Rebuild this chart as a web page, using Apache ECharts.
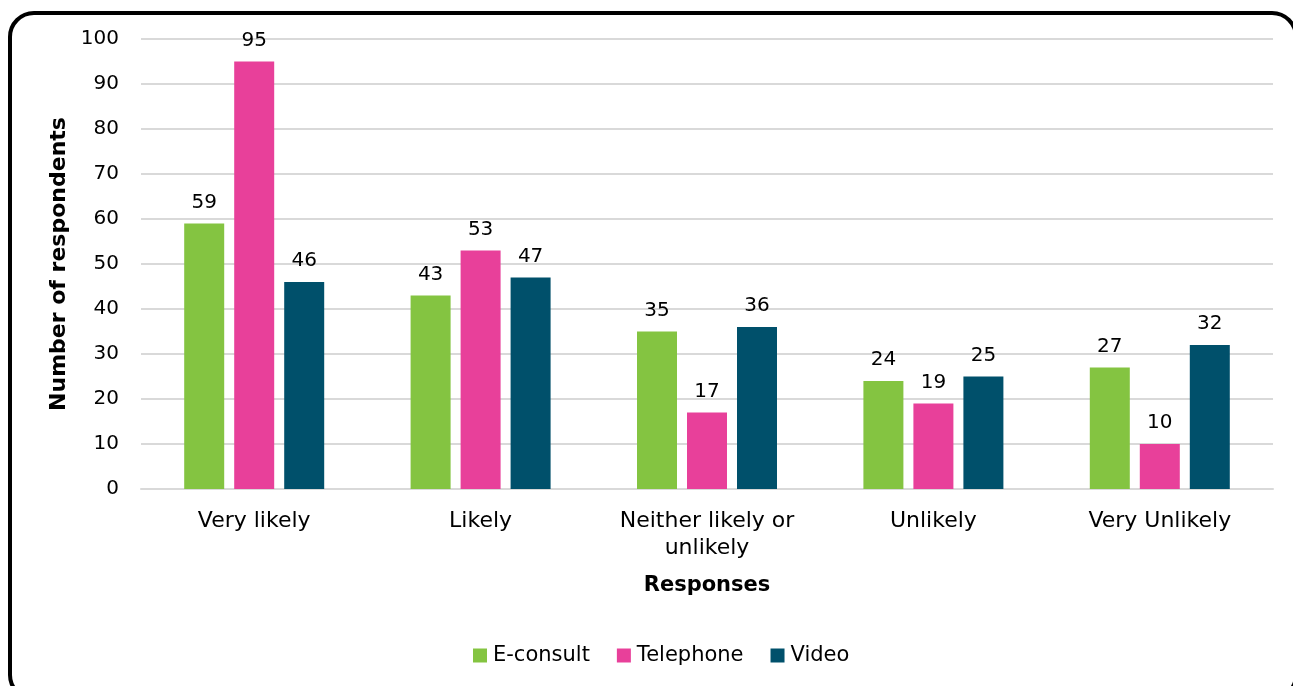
<!DOCTYPE html>
<html>
<head>
<meta charset="utf-8">
<script src="https://cdn.jsdelivr.net/npm/echarts@6/dist/echarts.min.js"></script>
<style>
    html, body { margin: 0; padding: 0; background: #fff; overflow: hidden; }
    #frame {
        position: absolute; left: 8px; top: 11px; width: 1290px; height: 690px;
        border: 4px solid #000; border-radius: 26px; box-sizing: border-box;
    }
    #chart-bar-01 { position: absolute; left: 0; top: 0; width: 1293px; height: 686px; }
</style>
</head>
<body>
<div id="frame"></div>
<div id="chart-bar-01"></div>
<script>
// 数据
var categories = ['Very likely', 'Likely', 'Neither likely or\nunlikely', 'Unlikely', 'Very Unlikely'];
var eConsult = [59, 43, 35, 24, 27];
var telephone = [95, 53, 17, 19, 10];
var video = [46, 47, 36, 25, 32];

var fontName = "'DejaVu Sans', sans-serif";

var chartbar1 = echarts.init(document.getElementById('chart-bar-01'));

function barSeries(name, data, color) {
    return {
        name: name,
        type: 'bar',
        data: data,
        barWidth: 40,
        barGap: '25%',
        itemStyle: { color: color },
        label: {
            show: true,
            position: 'top',
            distance: 11,
            color: '#000',
            fontSize: 20,
            fontFamily: fontName
        }
    };
}

var option = {
    animation: false,
    color: ['#84C441', '#E8409A', '#00506B'],
    legend: {
        bottom: 20,
        left: 473,
        padding: 0,
        itemWidth: 14,
        itemHeight: 14,
        itemGap: 27,
        icon: 'rect',
        textStyle: { color: '#000', fontSize: 21, fontFamily: fontName, padding: [0, 0, 0, 1] },
        data: ['E-consult', 'Telephone', 'Video']
    },
    grid: {
        left: 141,
        right: 20,
        top: 39,
        bottom: 197,
        containLabel: false
    },
    xAxis: {
        type: 'category',
        data: categories,
        name: 'Responses',
        nameLocation: 'middle',
        nameGap: 86,
        nameTextStyle: { color: '#000', fontSize: 21, fontWeight: 'bold', fontFamily: fontName },
        axisLabel: {
            color: '#000',
            fontSize: 22,
            lineHeight: 27,
            margin: 19,
            interval: 0,
            fontFamily: fontName
        },
        axisLine: { lineStyle: { color: '#d9d9d9', width: 2 } },
        axisTick: { show: false }
    },
    yAxis: {
        type: 'value',
        min: 0,
        max: 100,
        interval: 10,
        name: 'Number of respondents',
        nameLocation: 'middle',
        nameGap: 70,
        nameRotate: 90,
        nameTextStyle: { color: '#000', fontSize: 22, fontWeight: 'bold', fontFamily: fontName },
        axisLabel: { color: '#000', fontSize: 20, margin: 22, fontFamily: fontName },
        axisLine: { show: false },
        axisTick: { show: false },
        splitLine: { lineStyle: { color: '#d9d9d9', width: 2 } }
    },
    series: [
        barSeries('E-consult', eConsult, '#84C441'),
        barSeries('Telephone', telephone, '#E8409A'),
        barSeries('Video', video, '#00506B')
    ]
};

chartbar1.setOption(option);
</script>
</body>
</html>
